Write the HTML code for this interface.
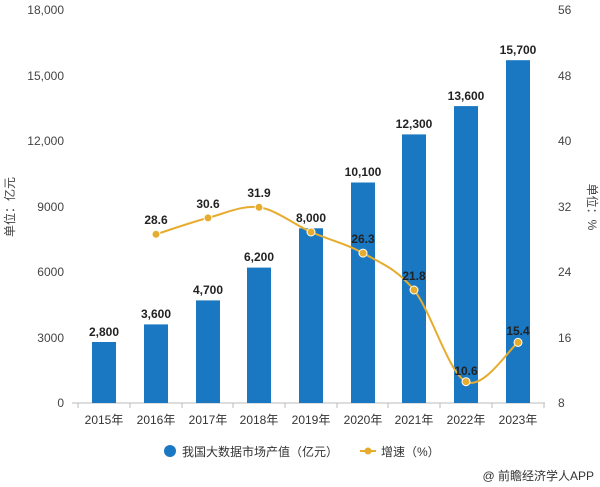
<!DOCTYPE html>
<html><head><meta charset="utf-8"><style>
body{margin:0;background:#fff;}
svg{display:block;font-family:"Liberation Sans","Noto Sans CJK SC",sans-serif;}
</style></head><body>
<svg width="600" height="487" viewBox="0 0 600 487">
<g font-size="12" fill="#444">
<g text-anchor="end">
<text x="64" y="14">18,000</text><text x="64" y="80">15,000</text><text x="64" y="145">12,000</text>
<text x="64" y="211">9000</text><text x="64" y="276">6000</text><text x="64" y="342">3000</text><text x="64" y="407">0</text>
</g>
<g text-anchor="start">
<text x="558" y="14">56</text><text x="558" y="80">48</text><text x="558" y="145">40</text>
<text x="558" y="211">32</text><text x="558" y="276">24</text><text x="558" y="342">16</text><text x="558" y="407">8</text>
</g>
<text transform="translate(14,207) rotate(-90)" text-anchor="middle">单位：亿元</text>
<text transform="translate(588,207) rotate(90)" text-anchor="middle">单位：%</text>
</g>
<line x1="72" y1="403" x2="545" y2="403" stroke="#bbb"/>
<g stroke="#bbb">
<line x1="78" y1="403" x2="78" y2="408"/><line x1="130" y1="403" x2="130" y2="408"/><line x1="182" y1="403" x2="182" y2="408"/><line x1="233" y1="403" x2="233" y2="408"/><line x1="285" y1="403" x2="285" y2="408"/><line x1="337" y1="403" x2="337" y2="408"/><line x1="388" y1="403" x2="388" y2="408"/><line x1="440" y1="403" x2="440" y2="408"/><line x1="492" y1="403" x2="492" y2="408"/><line x1="544" y1="403" x2="544" y2="408"/>
</g>
<g fill="#1a78c2">
<rect x="92" y="342" width="24" height="61"/><rect x="144" y="324.4" width="24" height="78.6"/><rect x="196" y="300.4" width="24" height="102.6"/><rect x="247" y="267.6" width="24" height="135.4"/><rect x="299" y="228.3" width="24" height="174.7"/><rect x="351" y="182.5" width="24" height="220.5"/><rect x="402" y="134.4" width="24" height="268.6"/><rect x="454" y="106.1" width="24" height="296.9"/><rect x="506" y="60.2" width="24" height="342.8"/>
</g>
<g font-size="12" fill="#333" text-anchor="middle">
<text x="104" y="424">2015年</text><text x="156" y="424">2016年</text><text x="208" y="424">2017年</text><text x="259" y="424">2018年</text><text x="311" y="424">2019年</text><text x="363" y="424">2020年</text><text x="414" y="424">2021年</text><text x="466" y="424">2022年</text><text x="518" y="424">2023年</text>
</g>
<g font-size="12" font-weight="bold" fill="#222" text-anchor="middle">
<text x="104" y="336">2,800</text><text x="156" y="318">3,600</text><text x="208" y="294">4,700</text><text x="259" y="261">6,200</text><text x="311" y="222">8,000</text><text x="363" y="176">10,100</text><text x="414" y="128">12,300</text><text x="466" y="100">13,600</text><text x="518" y="54">15,700</text>
</g>
<path d="M156,234.3 C164.7,231.6 190.8,222.4 208,217.9 C225.2,213.4 241.8,204.95 259,207.3 C276.2,209.65 293.7,224.4 311,232 C328.3,239.6 345.8,243.4 363,253.1 C380.2,262.8 396.8,268.6 414,290 C431.2,311.4 448.7,373 466,381.7 C483.3,390.4 509.3,348.95 518,342.4" fill="none" stroke="#e6ac2e" stroke-width="2"/>
<g fill="#e6ac2e" stroke="#fff" stroke-width="1">
<circle cx="156" cy="234.3" r="4"/><circle cx="208" cy="217.9" r="4"/><circle cx="259" cy="207.3" r="4"/><circle cx="311" cy="232" r="4"/><circle cx="363" cy="253.1" r="4"/><circle cx="414" cy="290" r="4"/><circle cx="466" cy="381.7" r="4"/><circle cx="518" cy="342.4" r="4"/>
</g>
<g font-size="12" font-weight="bold" fill="#222" text-anchor="middle">
<text x="156" y="224">28.6</text><text x="208" y="208">30.6</text><text x="259" y="197">31.9</text><text x="363" y="243">26.3</text><text x="414" y="280">21.8</text><text x="466" y="375">10.6</text><text x="518" y="335">15.4</text>
</g>
<circle cx="170" cy="451" r="6" fill="#1a78c2"/>
<text x="182" y="456" font-size="12" fill="#333">我国大数据市场产值（亿元）</text>
<line x1="360" y1="451" x2="376" y2="451" stroke="#e6ac2e" stroke-width="2"/>
<circle cx="368" cy="451" r="3.5" fill="#e6ac2e"/>
<text x="381" y="456" font-size="12" fill="#333">增速（%）</text>
<text x="594" y="480" font-size="12" fill="#333" text-anchor="end">@ 前瞻经济学人APP</text>
</svg>
</body></html>
